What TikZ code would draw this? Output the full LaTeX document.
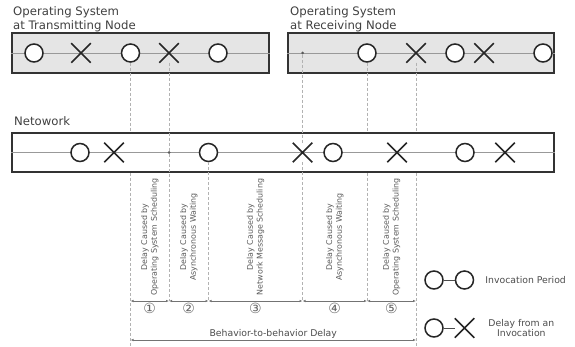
\documentclass[tikz,border=0pt]{standalone}
\usepackage{fontspec}
\setmainfont{DejaVu Sans}
\usepackage{tikz}
\usetikzlibrary{positioning,arrows.meta,shapes.misc}

\begin{document}
\begin{tikzpicture}[x=1pt,y=-1pt,font=\fontsize{11.7}{13.5}\selectfont,
  >={Latex[length=3pt,width=2.4pt]}]
\tikzstyle{lane}=[draw=black!80,line width=1.4pt,fill=black!10,
  minimum height=40pt,inner sep=0]
\tikzstyle{inv}=[circle,draw=black!85,line width=1.5pt,fill=white,
  minimum size=18pt,inner sep=0]
\tikzstyle{dly}=[cross out,draw=black!85,line width=1.5pt,
  minimum size=18pt,inner sep=0]
\tikzstyle{evt}=[circle,fill=black!65,minimum size=3pt,inner sep=0]
\tikzstyle{mid}=[draw=black!40,line width=0.9pt]
\tikzstyle{guide}=[draw=black!30,line width=0.6pt,dash pattern=on 3pt off 2pt]
\tikzstyle{cause}=[rotate=90,align=center,text=black!65,
  font=\fontsize{7.9}{9.8}\selectfont]
\tikzstyle{span}=[draw=black!55,line width=0.7pt,<->]
\tikzstyle{num}=[text=black!60,font=\fontsize{14}{14}\selectfont,inner sep=0.5pt]
\tikzstyle{title}=[text=black!75,align=left,inner sep=0]
\tikzstyle{legtext}=[text=black!70,align=center,inner sep=0,
  font=\fontsize{9.3}{10.5}\selectfont]

\useasboundingbox (0,0) rectangle (575,347);

% operating system lanes
\node[lane,minimum width=257pt] (tx) at (140.5,53) {};
\node[lane,minimum width=266pt] (rx) at (421,53) {};
\draw[mid] (tx.west) -- (tx.east);
\draw[mid] (rx.west) -- (rx.east);
\node[title,anchor=north west] (txl) at (13,6.5)
  {Operating System\\at Transmitting Node};
\node[title,anchor=north west] (rxl) at (290,6.5)
  {Operating System\\at Receiving Node};

\node[inv] (t1) at (34,53) {};
\node[dly] (t2) at (81,53) {};
\node[inv] (t3) at (130.5,53) {};
\node[dly] (t4) at (169,53) {};
\node[inv] (t5) at (218,53) {};

\node[evt] (r0) at (302.5,53) {};
\node[inv] (r1) at (367,53) {};
\node[dly] (r2) at (416,53) {};
\node[inv] (r3) at (455,53) {};
\node[dly] (r4) at (484,53) {};
\node[inv] (r5) at (543,53) {};

\coordinate (row) at (0,301);
\coordinate (tot) at (0,340);
\coordinate (base) at (0,347);

\draw[guide] (t3.south) -- (t3 |- base);
\draw[guide] (r1.south) -- (r1 |- row);
\draw[guide] (r2.south) -- (r2 |- base);

% network lane
\node[lane,fill=white,minimum width=542pt,minimum height=39pt] (net)
  at (283,152.5) {};
\draw[mid] (net.west) -- (net.east);
\node[title,anchor=base west] (netl) at (14,126) {Netowork};

\node[inv] (n1) at (80,152.5) {};
\node[dly] (n2) at (114,152.5) {};
\node[evt] (n3) at (169,152.5) {};
\node[inv] (n4) at (208.5,152.5) {};
\node[dly] (n5) at (302.5,152.5) {};
\node[inv] (n6) at (333,152.5) {};
\node[dly] (n7) at (397,152.5) {};
\node[inv] (n8) at (465,152.5) {};
\node[dly] (n9) at (505,152.5) {};

\draw[guide] (t4.south) -- (n3) -- (t4 |- row);
\draw[guide] (r0) -- (n5.north);
\draw[guide] (n5.south) -- (n5 |- row);
\draw[guide] (n4.south) -- (n4 |- row);

% delay parts
\coordinate (k0) at (t3 |- row);
\coordinate (k1) at (t4 |- row);
\coordinate (k2) at (n4 |- row);
\coordinate (k3) at (n5 |- row);
\coordinate (k4) at (r1 |- row);
\coordinate (k5) at (r2 |- row);

\draw[span] (k0) -- (k1) node[num,midway,below=1pt] (p1) {①};
\draw[span] (k1) -- (k2) node[num,midway,below=1pt] (p2) {②};
\draw[span] (k2) -- (k3) node[num,midway,below=1pt] (p3) {③};
\draw[span] (k3) -- (k4) node[num,midway,below=1pt] (p4) {④};
\draw[span] (k4) -- (k5) node[num,midway,below=1pt] (p5) {⑤};

\node[cause] (d1) at (149.75,237) {Delay Caused by\\Operating System Scheduling};
\node[cause] (d2) at (188.75,237) {Delay Caused by\\Asynchronous Waiting};
\node[cause] (d3) at (255.5,237) {Delay Caused by\\Network Message Scheduling};
\node[cause] (d4) at (334.75,237) {Delay Caused by\\Asynchronous Waiting};
\node[cause] (d5) at (391.5,237) {Delay Caused by\\Operating System Scheduling};

\draw[span] (t3 |- tot) -- (r2 |- tot)
  node[midway,above=1.5pt,legtext] (bb) {Behavior-to-behavior Delay};

% legend
\node[inv] (lg1) at (434,280) {};
\node[inv,right=11pt of lg1] (lg2) {};
\draw[draw=black!70,line width=1pt] (lg1) -- (lg2);
\node[legtext,right=11pt of lg2] (lg2t) {Invocation Period};

\node[inv] (lg3) at (434,328) {};
\node[dly,right=11pt of lg3] (lg4) {};
\draw[draw=black!70,line width=1pt] (lg3) -- (lg4);
\node[legtext,right=14pt of lg4] (lg4t) {Delay from an\\Invocation};
\end{tikzpicture}
\end{document}
